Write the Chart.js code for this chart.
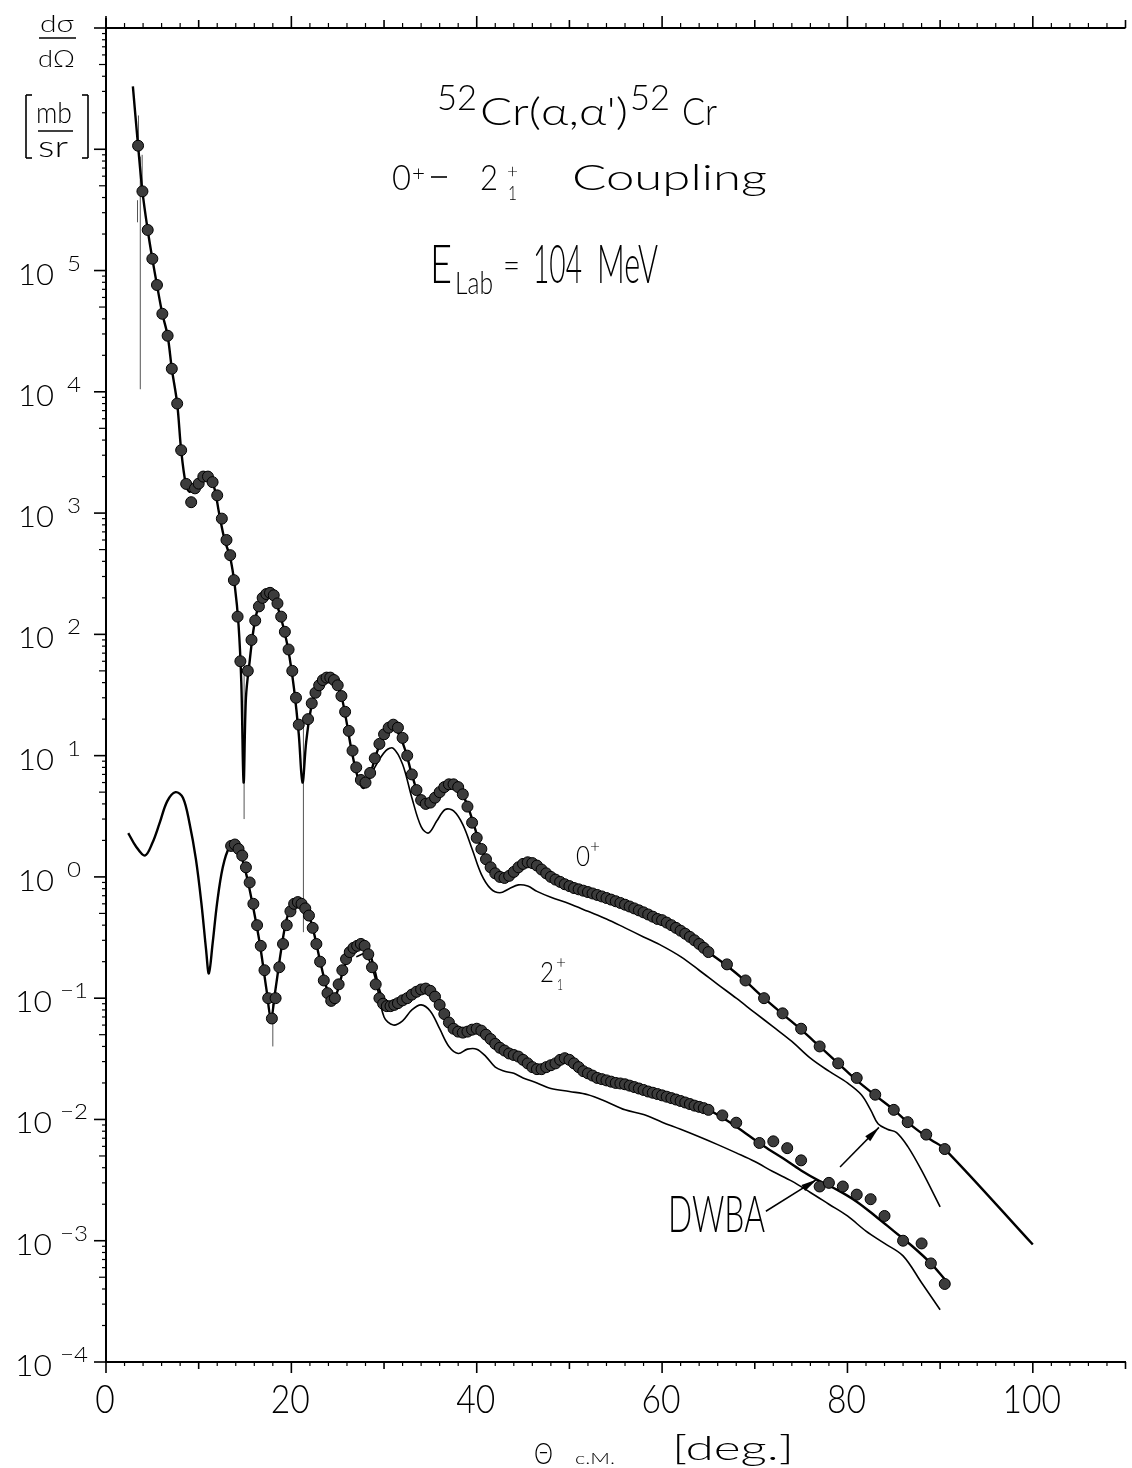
<!DOCTYPE html>
<html>
<head>
    <title>52Cr (alpha, alpha') 104 MeV</title>
    <style>
        body {
            margin: 0;
            background-color: #fff;
        }
        #chartBox {
            width: 1132px;
            height: 1468px;
        }
    </style>
    <script src="https://cdn.jsdelivr.net/npm/chart.js"></script>
</head>
<body>
    <div id="chartBox"><canvas id="xsChart" width="1132" height="1468"></canvas></div>

    <script>
        // measured 0+ (elastic) cross sections [theta c.m., mb/sr]
        var elasticData = [
            [3.46, 1.07e6], [3.93, 4.5e5], [4.5, 2.16e5], [5.0, 1.25e5], [5.5, 7.6e4], [6.08, 4.4e4],
            [6.65, 2.9e4], [7.1, 1.55e4], [7.68, 8.0e3], [8.11, 3.3e3], [8.65, 1.74e3], [9.19, 1.23e3],
            [9.6, 1.6e3], [10.0, 1.75e3], [10.5, 2.0e3], [11.0, 2.0e3], [11.5, 1.8e3], [12.0, 1.4e3],
            [12.5, 900], [13.0, 600], [13.4, 450], [13.8, 280], [14.2, 140], [14.5, 60], [15.3, 50],
            [15.7, 90], [16.1, 130], [16.5, 170], [16.9, 200], [17.3, 215], [17.7, 220], [18.1, 210],
            [18.5, 180], [18.9, 140], [19.3, 105], [19.7, 75], [20.1, 50], [20.5, 30], [20.8, 18],
            [21.8, 20], [22.2, 27], [22.6, 33], [23.0, 38], [23.4, 42], [23.8, 44], [24.2, 44],
            [24.6, 42], [25.0, 38], [25.4, 31], [25.8, 23], [26.2, 16], [26.6, 11], [27.0, 8],
            [27.5, 6.3], [28.0, 6], [28.5, 7.2], [29.0, 9.5], [29.5, 12.5], [30.0, 15], [30.5, 17],
            [31.0, 18], [31.5, 17], [32.0, 14], [32.5, 10], [33.0, 7], [33.5, 5.2], [34.0, 4.3],
            [34.5, 4.0], [35.0, 4.1], [35.5, 4.5], [36.0, 5.0], [36.5, 5.5], [37.0, 5.8], [37.5, 5.8],
            [38.0, 5.5], [38.5, 4.8], [39.0, 3.8], [39.5, 2.8], [40.0, 2.1], [40.5, 1.7], [41.0, 1.4],
            [41.5, 1.2], [42.0, 1.07], [42.5, 1.0], [43.0, 0.98], [43.5, 1.02], [44.0, 1.1],
            [44.5, 1.2], [45.0, 1.28], [45.5, 1.32], [46, 1.3], [46.5, 1.24], [47, 1.15], [47.5, 1.07],
            [48, 1.0], [48.5, 0.95], [49, 0.91], [49.5, 0.87], [50, 0.84], [50.5, 0.81], [51, 0.79],
            [51.5, 0.77], [52, 0.75], [52.5, 0.73], [53, 0.71], [53.5, 0.69], [54, 0.67], [54.5, 0.65],
            [55, 0.63], [55.5, 0.61], [56, 0.59], [56.5, 0.57], [57, 0.55], [57.5, 0.53], [58, 0.51],
            [58.5, 0.49], [59, 0.47], [59.5, 0.45], [60, 0.44], [60.5, 0.42], [61, 0.4], [61.5, 0.38],
            [62, 0.36], [62.5, 0.34], [63, 0.32], [63.5, 0.3], [64, 0.28], [64.5, 0.26], [65, 0.24],
            [67, 0.19], [69, 0.14], [71, 0.1], [73, 0.075], [75, 0.056], [77, 0.04], [79, 0.029],
            [81, 0.022], [83, 0.016], [85, 0.012], [86.5, 0.0095], [88.5, 0.0075], [90.5, 0.0057]
        ];

        // measured 2+1 (inelastic) cross sections
        var inelasticData = [
            [13.5, 1.8], [13.9, 1.85], [14.3, 1.7], [14.7, 1.5], [15.1, 1.2], [15.5, 0.9], [15.9, 0.6],
            [16.3, 0.4], [16.7, 0.27], [17.1, 0.17], [17.5, 0.1], [17.9, 0.068], [18.3, 0.1],
            [18.7, 0.18], [19.1, 0.28], [19.5, 0.4], [19.9, 0.52], [20.3, 0.6], [20.7, 0.62],
            [21.1, 0.6], [21.5, 0.55], [21.9, 0.48], [22.3, 0.38], [22.7, 0.28], [23.1, 0.2],
            [23.5, 0.14], [23.9, 0.11], [24.3, 0.095], [24.7, 0.1], [25.1, 0.13], [25.5, 0.17],
            [25.9, 0.21], [26.3, 0.24], [26.7, 0.26], [27.1, 0.27], [27.5, 0.28], [27.9, 0.27],
            [28.3, 0.23], [28.7, 0.18], [29.1, 0.13], [29.5, 0.1], [29.9, 0.09], [30.3, 0.086],
            [30.7, 0.086], [31.1, 0.088], [31.5, 0.091], [32, 0.096], [32.5, 0.1], [33, 0.107],
            [33.5, 0.113], [34, 0.118], [34.5, 0.12], [35, 0.115], [35.5, 0.103], [36, 0.088],
            [36.5, 0.074], [37, 0.063], [37.5, 0.056], [38, 0.053], [38.5, 0.052], [39, 0.053],
            [39.5, 0.055], [40, 0.056], [40.5, 0.054], [41, 0.05], [41.5, 0.046], [42, 0.042],
            [42.5, 0.039], [43, 0.037], [43.5, 0.035], [44, 0.034], [44.5, 0.033], [45, 0.031],
            [45.5, 0.029], [46, 0.027], [46.5, 0.026], [47, 0.026], [47.5, 0.027], [48, 0.028],
            [48.5, 0.029], [49, 0.031], [49.5, 0.032], [50, 0.031], [50.5, 0.029], [51, 0.027],
            [51.5, 0.025], [52, 0.024], [52.5, 0.023], [53, 0.022], [53.5, 0.0215], [54, 0.021],
            [54.5, 0.0205], [55, 0.02], [55.5, 0.0198], [56, 0.0195], [56.5, 0.019], [57, 0.0185],
            [57.5, 0.018], [58, 0.0175], [58.5, 0.017], [59, 0.0166], [59.5, 0.0162], [60, 0.0158],
            [60.5, 0.0154], [61, 0.015], [61.5, 0.0146], [62, 0.0142], [62.5, 0.0138], [63, 0.0134],
            [63.5, 0.013], [64, 0.0127], [64.5, 0.0124], [65, 0.012],
            [66.5, 0.0108], [68, 0.0094], [70.5, 0.0064], [72, 0.0066], [73.5, 0.0058], [75, 0.0046],
            [77, 0.0028], [78, 0.003], [79.5, 0.0028], [81, 0.0024], [82.5, 0.0022], [84, 0.0016],
            [86, 0.001], [88, 0.00095], [89, 0.00065], [90.5, 0.00044]
        ];

        // coupled channels fit, 0+
        var ccElastic = [
            [2.9, 3.3e6], [3.46, 1.07e6], [3.93, 4.5e5], [4.5, 2.16e5], [5.0, 1.25e5], [5.5, 7.6e4],
            [6.08, 4.4e4], [6.65, 2.9e4], [7.1, 1.55e4], [7.68, 8e3], [8.11, 3.3e3], [8.6, 1.75e3],
            [9.0, 1.5e3], [9.5, 1.6e3], [10.0, 1.85e3], [10.6, 2.1e3], [11.2, 1.95e3], [11.7, 1.6e3],
            [12.2, 1.0e3], [12.8, 600], [13.4, 430], [13.9, 250], [14.3, 120], [14.6, 40], [14.85, 6],
            [15.1, 30], [15.5, 60], [16.0, 120], [16.6, 185], [17.3, 220], [17.9, 215], [18.5, 170],
            [19.2, 110], [19.8, 65], [20.3, 35], [20.8, 15], [21.2, 6], [21.6, 13], [22.1, 24],
            [22.7, 35], [23.4, 42], [24.0, 44], [24.6, 42], [25.3, 33], [25.9, 20], [26.5, 11],
            [27.2, 6.5], [27.8, 5.4], [28.4, 6.6], [29.2, 10.5], [30.0, 14.5], [30.8, 16.5],
            [31.5, 15.5], [32.3, 11], [33.0, 7], [33.8, 4.6], [34.5, 4.0], [35.3, 4.3], [36.2, 5.1],
            [37.0, 5.6], [37.8, 5.5], [38.7, 4.4], [39.5, 3.0], [40.3, 1.9], [41.0, 1.4], [41.8, 1.12],
            [42.6, 1.0], [43.5, 1.02], [44.5, 1.2], [45.5, 1.3], [46.5, 1.22], [47.5, 1.07],
            [49, 0.9], [51, 0.79], [53, 0.71], [55, 0.63], [57, 0.55], [59, 0.47], [61, 0.4],
            [63, 0.32], [65, 0.24], [67, 0.185], [69, 0.138], [71, 0.1], [73, 0.074], [75, 0.055],
            [77, 0.04], [79, 0.029], [81, 0.021], [83, 0.0158], [85, 0.012], [87, 0.0088],
            [89, 0.0068], [90.5, 0.0057], [100, 0.00093]
        ];

        // DWBA, 0+
        var dwbaElastic = [
            [28, 5.4], [29, 8.0], [30.2, 11], [31, 11.5], [32, 8.5], [33, 4.5], [34, 2.6], [34.8, 2.3],
            [35.7, 2.9], [36.6, 3.6], [37.5, 3.5], [38.5, 2.7], [39.5, 1.7], [40.5, 1.05],
            [41.5, 0.8], [42.5, 0.74], [43.5, 0.8], [44.5, 0.86], [45.5, 0.84], [46.5, 0.76],
            [48, 0.68], [50, 0.6], [52, 0.52], [54, 0.45], [56, 0.38], [58, 0.32], [60, 0.27],
            [62, 0.22], [64, 0.17], [66, 0.13], [68, 0.1], [70, 0.076], [72, 0.058], [74, 0.044],
            [76, 0.032], [78, 0.025], [80, 0.02], [81.5, 0.016], [82.5, 0.012], [83.3, 0.0092],
            [84.3, 0.0083], [85.3, 0.0078], [86.5, 0.006], [88, 0.0038], [90, 0.0019]
        ];

        // coupled channels fit, 2+1
        var ccInelastic = [
            [2.4, 2.3], [3.2, 1.8], [4.2, 1.5], [5.0, 1.9], [5.8, 2.8], [6.6, 4.2], [7.5, 5.0],
            [8.3, 4.5], [9.0, 2.8], [9.7, 1.4], [10.3, 0.6], [10.8, 0.25], [11.1, 0.16], [11.5, 0.28],
            [12.0, 0.62], [12.6, 1.2], [13.3, 1.75], [13.9, 1.8], [14.5, 1.55], [15.2, 1.0],
            [15.9, 0.55], [16.6, 0.28], [17.3, 0.12], [17.8, 0.07], [18.3, 0.12], [18.9, 0.25],
            [19.5, 0.45], [20.2, 0.6], [20.9, 0.62], [21.6, 0.55], [22.3, 0.38], [23.0, 0.22],
            [23.7, 0.13], [24.3, 0.095], [24.9, 0.11], [25.6, 0.17], [26.4, 0.24], [27.4, 0.28],
            [28.2, 0.26], [28.9, 0.18], [29.6, 0.11], [30.3, 0.086], [31, 0.083], [32, 0.09],
            [33, 0.105], [34, 0.117], [35, 0.11], [36, 0.085], [37, 0.062], [38, 0.051], [39, 0.051],
            [40, 0.054], [41, 0.05], [42, 0.044], [43, 0.038], [44, 0.035], [45, 0.031], [46, 0.027],
            [47, 0.026], [48, 0.028], [49.5, 0.03], [51, 0.027], [53, 0.022], [55, 0.02], [57, 0.019],
            [59, 0.017], [61, 0.0152], [63, 0.0135], [65, 0.012], [67, 0.0098], [69, 0.0077],
            [71, 0.006], [73, 0.0048], [75, 0.0038], [77, 0.0031], [79, 0.0026], [81, 0.0021],
            [83, 0.0016], [85, 0.0012], [87, 0.0009], [89, 0.00065], [90.5, 0.00048]
        ];

        // DWBA, 2+1
        var dwbaInelastic = [
            [27, 0.22], [28, 0.23], [29, 0.15], [30, 0.07], [31, 0.06], [32, 0.065], [33, 0.08],
            [34, 0.088], [35, 0.078], [36, 0.056], [37, 0.04], [38, 0.035], [39, 0.038], [40, 0.038],
            [41, 0.033], [42, 0.027], [43, 0.025], [44, 0.024], [45, 0.022], [46.5, 0.02], [48, 0.018],
            [50, 0.017], [52, 0.016], [54, 0.014], [56, 0.012], [58, 0.011], [60, 0.0095],
            [62, 0.0083], [64, 0.0072], [66, 0.0062], [68, 0.0053], [70, 0.0045], [72, 0.0037],
            [74, 0.0031], [76, 0.0025], [78, 0.002], [80, 0.0016], [82, 0.0012], [84, 0.00095],
            [86, 0.00075], [88, 0.00045], [90, 0.00027]
        ];

        // error bars [theta, low, high]
        var errorBars = [
            [3.7, 1.05e4, 8.7e5], [3.5, 1.15e6, 1.9e6], [3.9, 4.7e5, 9e5], [3.4, 2.5e5, 3.8e5],
            [14.9, 3, 60], [21.3, 0.35, 18], [18.0, 0.04, 0.09]
        ];

        var xTickLabels = ['0', '20', '40', '60', '80', '100'];
        var yExponents = [-4, -3, -2, -1, 0, 1, 2, 3, 4, 5];

        var FONT = "'Lato', 'Roboto', 'DejaVu Sans', sans-serif";

        function pts(arr) {
            return arr.map(function (p) { return { x: p[0], y: p[1] }; });
        }

        function errPts(arr) {
            var out = [];
            arr.forEach(function (e) {
                out.push({ x: e[0], y: e[1] }, { x: e[0], y: e[2] }, { x: e[0], y: null });
            });
            return out;
        }

        // draws text, optionally squeezed/stretched to a given width
        function put(ctx, s, x, y, size, w, fam, weight) {
            ctx.font = (weight || 300) + ' ' + size + 'px ' + (fam || FONT);
            var m = ctx.measureText(s).width;
            ctx.save();
            ctx.translate(x, y);
            if (w) ctx.scale(w / m, 1);
            ctx.fillText(s, 0, 0);
            ctx.restore();
        }

        function seg(ctx, x1, y1, x2, y2) {
            ctx.beginPath();
            ctx.moveTo(x1, y1);
            ctx.lineTo(x2, y2);
            ctx.stroke();
        }

        function arrow(ctx, xs, ys, from, to) {
            var x1 = xs.getPixelForValue(from[0]), y1 = ys.getPixelForValue(from[1]);
            var x2 = xs.getPixelForValue(to[0]), y2 = ys.getPixelForValue(to[1]);
            var ang = Math.atan2(y2 - y1, x2 - x1);
            ctx.lineWidth = 1.5;
            seg(ctx, x1, y1, x2, y2);
            ctx.save();
            ctx.translate(x2, y2);
            ctx.rotate(ang);
            ctx.beginPath();
            ctx.moveTo(0, 0);
            ctx.lineTo(-16, -3.5);
            ctx.lineTo(-16, 3.5);
            ctx.closePath();
            ctx.fill();
            ctx.restore();
        }

        var decor = {
            id: 'decor',
            afterDraw: function (chart) {
                var ctx = chart.ctx, xs = chart.scales.x, ys = chart.scales.y, a = chart.chartArea;
                ctx.save();
                ctx.strokeStyle = '#000';
                ctx.fillStyle = '#000';
                ctx.textBaseline = 'alphabetic';
                ctx.textAlign = 'left';

                // top frame, left axis runs a little past it
                ctx.lineWidth = 2;
                seg(ctx, a.left, a.top, a.right, a.top);
                seg(ctx, a.left, a.top, a.left, a.top - 10);

                // x ticks, bottom and top
                for (var t = 0; t <= 110; t += 2) {
                    var px = xs.getPixelForValue(t);
                    var len = t % 20 === 0 ? 11 : (t % 10 === 0 ? 7 : 4);
                    ctx.lineWidth = t % 10 === 0 ? 1.6 : 1.2;
                    seg(ctx, px, a.bottom, px, a.bottom + len);
                    seg(ctx, px, a.top, px, a.top - len - 1);
                }

                // y ticks
                for (var e = -4; e <= 7; e++) {
                    for (var m = 1; m <= 9; m++) {
                        var v = m * Math.pow(10, e);
                        if (v > 1e7) break;
                        var py = ys.getPixelForValue(v);
                        var l = m === 1 ? 12 : (m === 5 ? 7 : 4);
                        ctx.lineWidth = m === 1 ? 1.6 : 1.2;
                        seg(ctx, a.left - l, py, a.left, py);
                    }
                }

                // x tick labels
                xTickLabels.forEach(function (s) {
                    var px = xs.getPixelForValue(+s);
                    var w = s.length * 19.5;
                    put(ctx, s, px - w / 2 - 1, 1413, 39, w);
                });

                // y tick labels 10^n
                yExponents.forEach(function (n) {
                    var py = ys.getPixelForValue(Math.pow(10, n));
                    if (n >= 0) {
                        put(ctx, '10', 18, py + 14, 30, 36);
                        put(ctx, String(n), 67, py, 21, 14);
                    } else {
                        put(ctx, '10', 15, py + 14, 30, 37);
                        put(ctx, '\u2212' + (-n), 60, py, 21, 28);
                    }
                });

                // y unit label
                put(ctx, 'd\u03c3', 40, 32, 24, 34);
                ctx.lineWidth = 1.6;
                seg(ctx, 39, 38, 76, 38);
                put(ctx, 'd\u03a9', 38, 67, 24, 37);
                put(ctx, 'mb', 36, 123, 29, 36);
                seg(ctx, 38, 131, 73, 131);
                put(ctx, 'sr', 38, 157, 29, 30);
                ctx.lineWidth = 1.6;
                seg(ctx, 32, 95, 26, 95); seg(ctx, 26, 95, 26, 158); seg(ctx, 26, 158, 32, 158);
                seg(ctx, 82, 95, 88, 95); seg(ctx, 88, 95, 88, 158); seg(ctx, 88, 158, 82, 158);

                // x axis title
                put(ctx, '\u0398', 534, 1464, 30, 19);
                put(ctx, 'c.M.', 575, 1464, 16, 40);
                put(ctx, '[deg.]', 672, 1460, 34, 122);

                // header texts
                put(ctx, '52', 437, 110, 36, 40);
                put(ctx, 'Cr(\u03b1,\u03b1\')', 480, 125, 38, 148);
                put(ctx, '52', 630, 110, 36, 40);
                put(ctx, 'Cr', 682, 125, 38, 35);

                put(ctx, '0', 392, 190, 36, 19);
                put(ctx, '+', 412, 181, 22, 13);
                ctx.lineWidth = 1.6;
                seg(ctx, 431, 177, 447, 177);
                put(ctx, '2', 480, 190, 36, 18);
                put(ctx, '+', 507, 178, 20, 11);
                put(ctx, '1', 508, 200, 20, 9);
                put(ctx, 'Coupling', 572, 190, 36, 195);

                // condensed look: light face squeezed to the measured widths
                put(ctx, 'E', 430, 283, 53, 22);
                put(ctx, 'Lab', 455, 294, 31, 38);
                put(ctx, '=', 503, 278, 36, 17);
                put(ctx, '104', 533, 283, 53, 49);
                put(ctx, 'MeV', 597, 283, 53, 61);

                // curve labels
                put(ctx, '0', 576, 866, 28, 14);
                put(ctx, '+', 590, 852, 18, 10);
                put(ctx, '2', 540, 982, 28, 14);
                put(ctx, '+', 556, 968, 17, 10);
                put(ctx, '1', 557, 990, 15, 6);
                put(ctx, 'DWBA', 668, 1232, 51, 97);

                // arrows to the DWBA curves
                arrow(ctx, xs, ys, [79.2, 4.05e-3], [83.4, 8.6e-3]);
                arrow(ctx, xs, ys, [71.2, 1.75e-3], [76.7, 3.2e-3]);

                ctx.restore();
            }
        };

        var pointStyle = {
            type: 'scatter',
            pointRadius: 5.5,
            pointBackgroundColor: '#3c3c3c',
            pointBorderColor: '#000',
            pointBorderWidth: 1,
            showLine: false,
            order: 0
        };

        function curve(label, arr, width) {
            return {
                type: 'line',
                label: label,
                data: pts(arr),
                borderColor: '#000',
                borderWidth: width,
                pointRadius: 0,
                tension: 0.35,
                fill: false,
                order: 1
            };
        }

        var xsChart = new Chart(document.getElementById('xsChart'), {
            type: 'scatter',
            data: {
                datasets: [
                    Object.assign({ label: '0+ data', data: pts(elasticData) }, pointStyle),
                    Object.assign({ label: '2+ data', data: pts(inelasticData) }, pointStyle),
                    curve('0+ coupled channels', ccElastic, 2.4),
                    curve('2+ coupled channels', ccInelastic, 2.4),
                    curve('0+ DWBA', dwbaElastic, 1.6),
                    curve('2+ DWBA', dwbaInelastic, 1.6),
                    {
                        type: 'line',
                        label: 'errors',
                        data: errPts(errorBars),
                        borderColor: '#555',
                        borderWidth: 1,
                        pointRadius: 0,
                        spanGaps: false,
                        order: 2
                    }
                ]
            },
            options: {
                responsive: false,
                animation: false,
                layout: { padding: { top: 28, right: 0, left: 0, bottom: 0 } },
                plugins: {
                    legend: { display: false },
                    tooltip: { enabled: false }
                },
                scales: {
                    x: {
                        type: 'linear',
                        min: 0,
                        max: 110,
                        grid: { display: false },
                        ticks: { display: false },
                        border: { display: true, color: '#000', width: 2 },
                        afterFit: function (s) { s.height = 106; }
                    },
                    y: {
                        type: 'logarithmic',
                        min: 1e-4,
                        max: 1e7,
                        grid: { display: false },
                        ticks: { display: false },
                        border: { display: true, color: '#000', width: 2 },
                        afterFit: function (s) { s.width = 106; }
                    }
                }
            },
            plugins: [decor]
        });
    </script>
</body>
</html>
